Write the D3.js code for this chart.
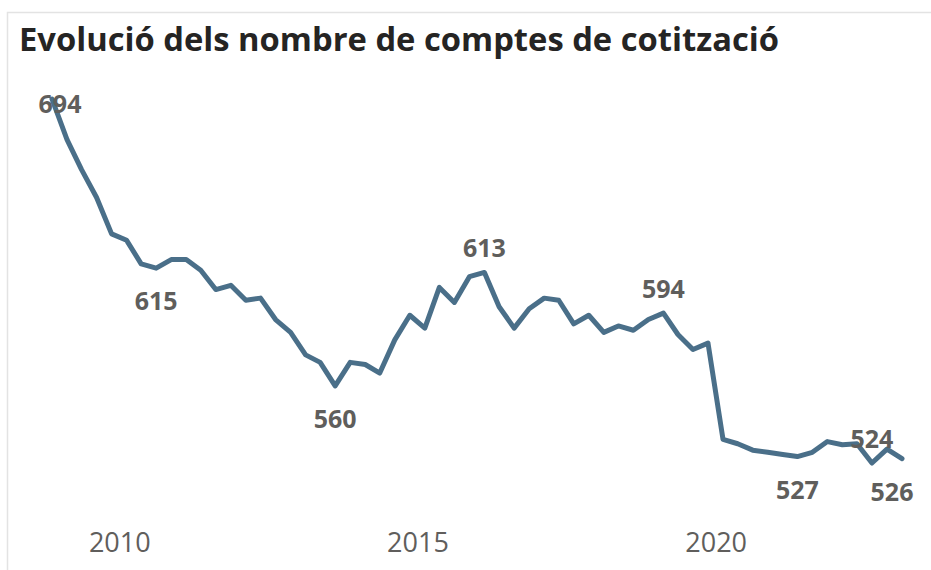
<!DOCTYPE html>
<html>
<head>
<meta charset="utf-8">
<script src="https://cdn.jsdelivr.net/npm/d3@7"></script>
<style>
  body { margin: 0; background: #fff; }
  svg { display: block; }
</style>
</head>
<body>
<div id="visualization"></div>
<script>
// Quarterly series, 2008 T4 .. 2023 T1
const quarters = [
  "2008-T4",
  "2009-T1", "2009-T2", "2009-T3", "2009-T4",
  "2010-T1", "2010-T2", "2010-T3", "2010-T4",
  "2011-T1", "2011-T2", "2011-T3", "2011-T4",
  "2012-T1", "2012-T2", "2012-T3", "2012-T4",
  "2013-T1", "2013-T2", "2013-T3", "2013-T4",
  "2014-T1", "2014-T2", "2014-T3", "2014-T4",
  "2015-T1", "2015-T2", "2015-T3", "2015-T4",
  "2016-T1", "2016-T2", "2016-T3", "2016-T4",
  "2017-T1", "2017-T2", "2017-T3", "2017-T4",
  "2018-T1", "2018-T2", "2018-T3", "2018-T4",
  "2019-T1", "2019-T2", "2019-T3", "2019-T4",
  "2020-T1", "2020-T2", "2020-T3", "2020-T4",
  "2021-T1", "2021-T2", "2021-T3", "2021-T4",
  "2022-T1", "2022-T2", "2022-T3", "2022-T4",
  "2023-T1"
];

const accounts = [
  694, 675, 661, 648, 631, 628, 617, 615, 619, 619,
  614, 605, 607, 600, 601, 591, 585, 574.5, 571, 560,
  571, 570, 566, 581.5, 593, 587, 606, 599, 611, 613,
  597, 587, 596, 601, 600, 589, 593, 585, 588, 586,
  591, 594, 584, 577, 580, 535, 533, 530, 529, 528,
  527, 529, 534, 532.5, 533, 524, 530.5, 526
];

// quarters that carry a data label
const labelled = ["2008-T4", "2010-T3", "2013-T3", "2016-T1", "2019-T1", "2021-T2", "2022-T3", "2023-T1"];

const yearTicks = [2010, 2015, 2020];

const title = "Evolució dels nombre de comptes de cotització";

const width = 931;
const height = 570;

// quarter -> mid-quarter date
const toDate = (q) => {
  const [y, t] = q.split("-T");
  return new Date(+y, (+t - 1) * 3 + 1, 15);
};

const data = quarters.map((q, i) => ({ q, date: toDate(q), value: accounts[i] }));

const svg = d3
  .select("#visualization")
  .append("svg")
  .attr("width", width)
  .attr("height", height);

// card border
svg
  .append("rect")
  .attr("x", 7.5)
  .attr("y", 12.5)
  .attr("width", 960)
  .attr("height", 600)
  .attr("fill", "none")
  .attr("stroke", "#e3e3e3")
  .attr("stroke-width", 1.5);

const x = d3
  .scaleTime()
  .domain(d3.extent(data, (d) => d.date))
  .range([52, 902]);

const y = d3.scaleLinear().domain([524, 694]).range([463, 99]);

// Title
svg
  .append("text")
  .attr("x", 19)
  .attr("y", 51)
  .attr("font-family", "'Open Sans', sans-serif")
  .attr("font-size", "33px")
  .attr("font-weight", "bold")
  .attr("fill", "#252423")
  .attr("textLength", 760)
  .attr("lengthAdjust", "spacingAndGlyphs")
  .text(title);

// X axis
const xAxis = svg
  .append("g")
  .attr("transform", "translate(0,530)")
  .call(
    d3
      .axisBottom(x)
      .tickValues(yearTicks.map((yr) => new Date(yr, 0, 1)))
      .tickFormat(d3.timeFormat("%Y"))
      .tickSize(0)
  );
xAxis.select(".domain").remove();
xAxis
  .selectAll("text")
  .attr("font-family", "'Open Sans', sans-serif")
  .attr("font-size", "27px")
  .attr("fill", "#605e5c");

// Line
svg
  .append("path")
  .datum(data)
  .attr("fill", "none")
  .attr("stroke", "#4a6f89")
  .attr("stroke-width", 5)
  .attr("stroke-linejoin", "round")
  .attr("stroke-linecap", "round")
  .attr(
    "d",
    d3
      .line()
      .x((d) => x(d.date))
      .y((d) => y(d.value))
  );

// Data labels
const above = new Set(["2016-T1", "2019-T1", "2022-T3"]);
const labels = svg
  .append("g")
  .attr("font-family", "'Open Sans', sans-serif")
  .attr("font-size", "25px")
  .attr("font-weight", "bold")
  .attr("fill", "#5f5e5c")
  .attr("text-anchor", "middle")
  .attr("dominant-baseline", "central");

labels
  .selectAll("text")
  .data(data.filter((d) => labelled.includes(d.q)))
  .join("text")
  .attr("x", (d) => Math.max(60, Math.min(892, x(d.date))))
  .attr("y", (d) => {
    const py = y(d.value);
    const ly = above.has(d.q) ? py - 25 : py + 32;
    return d.q === quarters[0] ? 103 : ly;
  })
  .text((d) => d3.format("d")(d.value));
</script>
</body>
</html>
